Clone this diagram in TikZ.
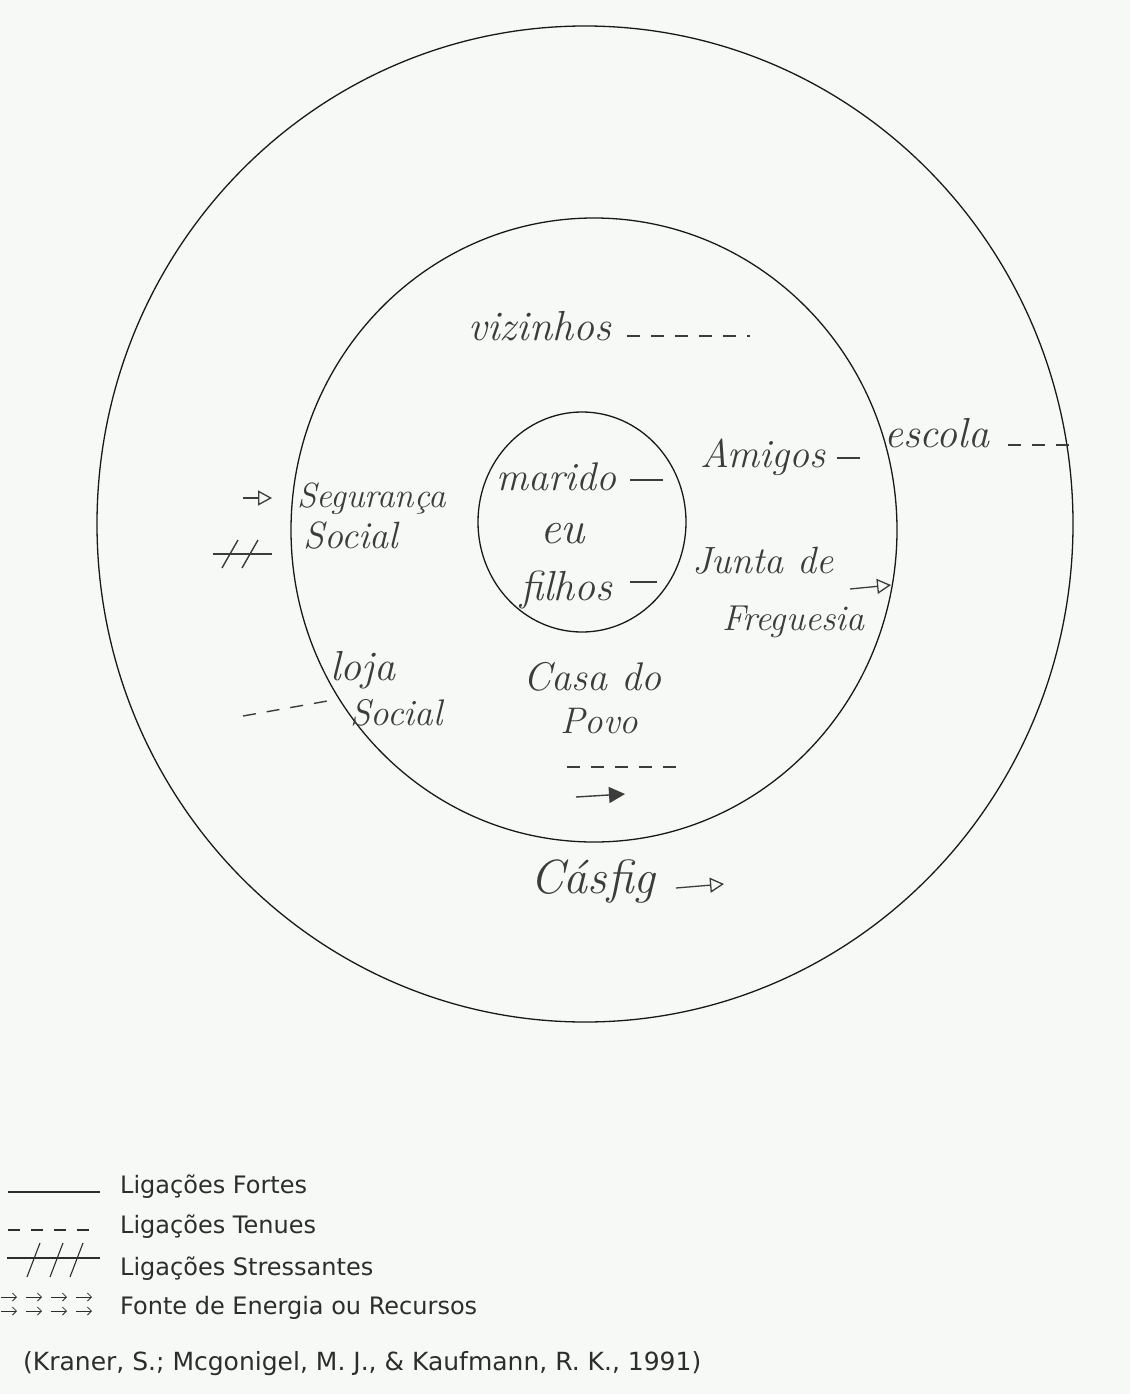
\documentclass[tikz,border=0pt]{standalone}
\usepackage{fontspec}
\newfontfamily\legendfont{DejaVu Sans}
\usetikzlibrary{arrows.meta}
\definecolor{paper}{RGB}{246,249,245}
\definecolor{pencil}{RGB}{60,60,60}
\definecolor{ink}{RGB}{25,25,25}
\definecolor{print}{RGB}{45,45,45}
\begin{document}
\begin{tikzpicture}[x=1pt,y=-1pt,
  ring/.style={draw=ink, line width=1.3pt},
  hand/.style={font=\fontsize{#1}{#1}\selectfont\itshape, text=pencil, inner sep=0pt, anchor=base west},
  hand/.default=38,
  strongtie/.style={draw=pencil, line width=1.4pt},
  weaktie/.style={draw=pencil, line width=1.4pt, dash pattern=on 13pt off 11pt},
  energy/.style={draw=pencil, line width=1.3pt, -{Triangle[open,length=14pt,width=15pt,line width=1.3pt]}},
  energyfill/.style={draw=pencil, line width=1.4pt, -{Triangle[fill=pencil,length=16pt,width=16pt]}},
  legline/.style={draw=print, line width=1.1pt},
  legarrow/.style={draw=print, line width=0.8pt, -{Straight Barb[length=4pt,width=8pt]}},
  legtext/.style={font=\fontsize{24}{28}\selectfont\legendfont, text=print, inner sep=0pt, anchor=base west},
]
\fill[paper] (0,0) rectangle (1130,1394);
\useasboundingbox (0,0) rectangle (1130,1394);

% rings
\draw[ring] (585,524) ellipse [x radius=488pt, y radius=498pt];
\draw[ring] (594,530) ellipse [x radius=303pt, y radius=312pt];
\draw[ring] (582,522) ellipse [x radius=104pt, y radius=110pt];

% handwritten labels
\node[hand=42] (viz) at (468,340) {vizinhos};
\node[hand=40] (mar) at (496,490) {marido};
\node[hand=46] (eu) at (540,543) {eu};
\node[hand=42] (fil) at (520,600) {filhos};
\node[hand=40] (ami) at (700,467) {Amigos};
\node[hand=42] (esc) at (884,447) {escola};
\node[hand=35] (seg) at (297,507) {Segurança};
\node[hand=38] (soc) at (303,548) {Social};
\node[hand=38] (jun) at (692,573) {Junta de};
\node[hand=36] (fre) at (722,630) {Freguesia};
\node[hand=42] (loj) at (330,680) {loja};
\node[hand=37] (lso) at (350,725) {Social};
\node[hand=40] (cas) at (523,690) {Casa do};
\node[hand=37] (pov) at (560,733) {Povo};
\node[hand=48] (caf) at (530,893) {Cásfig};

% mark end points
\coordinate (vizA) at (627,336);  \coordinate (vizB) at (750,336);
\coordinate (marA) at (630,480);  \coordinate (marB) at (663,480);
\coordinate (filA) at (630,582);  \coordinate (filB) at (657,582);
\coordinate (amiA) at (837,458);  \coordinate (amiB) at (860,458);
\coordinate (escA) at (1008,445); \coordinate (escB) at (1078,445);
\coordinate (segA) at (243,498);  \coordinate (segB) at (272,498);
\coordinate (stA) at (213,554);   \coordinate (stB) at (272,554);
\coordinate (junA) at (850,589);  \coordinate (junB) at (891,585);
\coordinate (lojA) at (243,716);  \coordinate (lojB) at (333,700);
\coordinate (casA) at (567,767);  \coordinate (casB) at (680,767);
\coordinate (povA) at (576,797);  \coordinate (povB) at (625,794);
\coordinate (cafA) at (676,888);  \coordinate (cafB) at (724,884);

% ties
\draw[weaktie] (vizA) -- (vizB);
\draw[strongtie] (marA) -- (marB);
\draw[strongtie] (filA) -- (filB);
\draw[strongtie] (amiA) -- (amiB);
\draw[weaktie] (escA) -- (escB);
\draw[energy] (segA) -- (segB);
\draw[strongtie] (stA) -- (stB);
\draw[strongtie] (222,568) -- (238,540);
\draw[strongtie] (242,568) -- (258,540);
\draw[energy] (junA) -- (junB);
\draw[weaktie] (lojA) -- (lojB);
\draw[weaktie] (casA) -- (casB);
\draw[energyfill] (povA) -- (povB);
\draw[energy] (cafA) -- (cafB);

% legend
\coordinate (l1A) at (8,1192);  \coordinate (l1B) at (100,1192);
\coordinate (l2A) at (8,1230);  \coordinate (l2B) at (98,1230);
\coordinate (l3A) at (7,1258);  \coordinate (l3B) at (100,1258);
\draw[legline] (l1A) -- (l1B);
\draw[legline, dash pattern=on 12pt off 11pt] (l2A) -- (l2B);
\draw[legline] (l3A) -- (l3B);
\draw[legline] (27,1277) -- (40,1243);
\draw[legline] (50,1277) -- (63,1243);
\draw[legline] (70,1277) -- (83,1243);
\foreach \yy in {1297,1311} {
  \foreach \xx in {1,26,51,76} {
    \draw[legarrow] (\xx,\yy) -- ++(16,0);
  }
}
\node[legtext] (lf) at (120,1193) {Ligações Fortes};
\node[legtext] (lt) at (120,1233) {Ligações Tenues};
\node[legtext] (ls) at (120,1275) {Ligações Stressantes};
\node[legtext] (le) at (120,1314) {Fonte de Energia ou Recursos};
\node[legtext, font=\fontsize{25}{29}\selectfont\legendfont] (cite) at (23,1370) {(Kraner, S.; Mcgonigel, M. J., \& Kaufmann, R. K., 1991)};
\end{tikzpicture}
\end{document}
